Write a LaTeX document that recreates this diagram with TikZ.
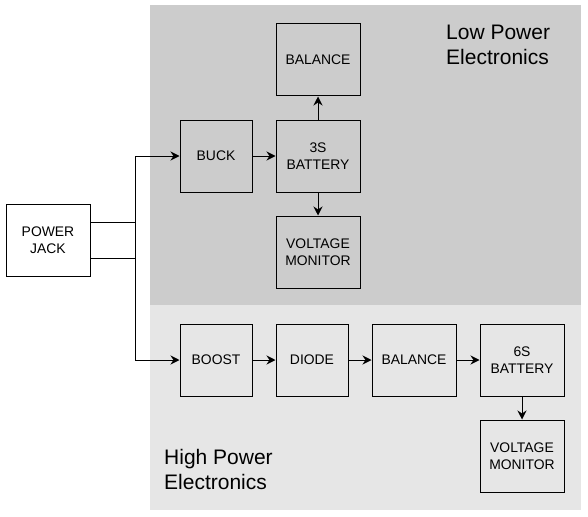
\documentclass[tikz,border=0pt]{standalone}
\usepackage{fontspec}
\setmainfont{Liberation Sans}
\usetikzlibrary{arrows.meta}
\definecolor{lowgray}{HTML}{CCCCCC}
\definecolor{highgray}{HTML}{E6E6E6}
\begin{document}
\begin{tikzpicture}[x=1pt,y=-1pt,
  blk/.style={draw=black,line width=1pt,minimum height=72pt,inner sep=0pt,align=center,
    font=\fontsize{13.9pt}{16.7pt}\selectfont},
  narrow/.style={blk,minimum width=72pt},
  wide/.style={blk,minimum width=84pt},
  conn/.style={line width=1pt,-{Stealth[length=9pt,width=9pt,inset=3pt]}},
  region/.style={font=\fontsize{21pt}{25pt}\selectfont,align=left,inner sep=0pt}]
\useasboundingbox (0,0) rectangle (588,516);
\fill[lowgray] (150,5) rectangle (581,305);
\fill[highgray] (150,305) rectangle (581,510);
\node[region,anchor=base west] (lowlbl) at (446,65) {Low Power\\Electronics};
\node[region,anchor=base west] (highlbl) at (164,489) {High Power\\Electronics};
\node[wide,fill=white] (jack) at (48,240) {POWER\\JACK};
\node[narrow] (buck) at (216,156) {BUCK};
\node[wide] (bal1) at (318,60) {BALANCE};
\node[wide] (bat3) at (318,156) {3S\\BATTERY};
\node[wide] (vm1) at (318,252) {VOLTAGE\\MONITOR};
\node[narrow] (boost) at (216,360) {BOOST};
\node[narrow] (diode) at (312,360) {DIODE};
\node[wide] (bal2) at (414,360) {BALANCE};
\node[wide] (bat6) at (522,360) {6S\\BATTERY};
\node[wide] (vm2) at (522,456) {VOLTAGE\\MONITOR};
\draw[conn] ([yshift=-18pt]jack.east) -| (135,156) -- (buck.west);
\draw[conn] ([yshift=18pt]jack.east) -| (135,360) -- (boost.west);
\draw[conn] (buck) -- (bat3);
\draw[conn] (bat3) -- (bal1);
\draw[conn] (bat3) -- (vm1);
\draw[conn] (boost) -- (diode);
\draw[conn] (diode) -- (bal2);
\draw[conn] (bal2) -- (bat6);
\draw[conn] (bat6) -- (vm2);
\end{tikzpicture}
\end{document}
